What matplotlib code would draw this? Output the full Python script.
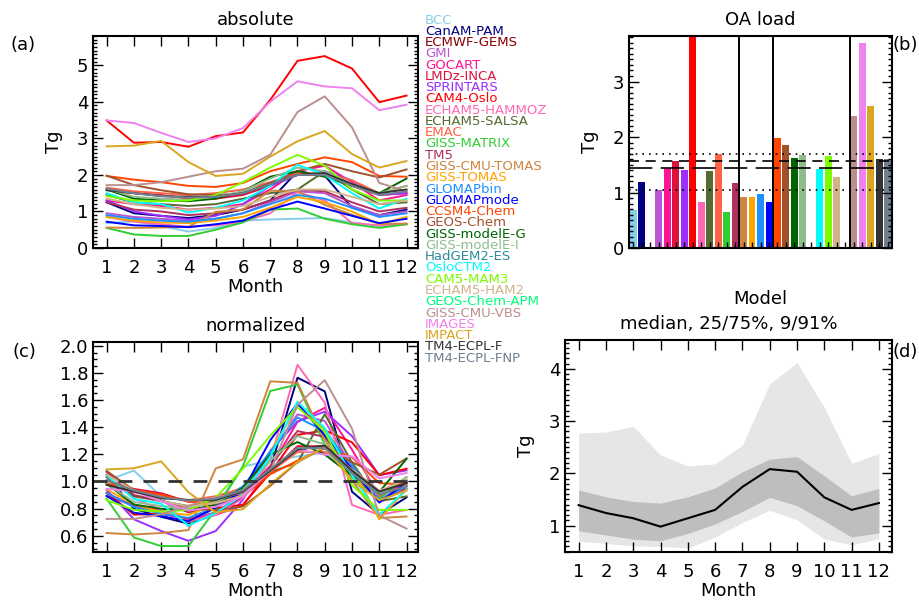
import matplotlib
matplotlib.use('Agg')
import matplotlib.pyplot as plt
import numpy as np
from matplotlib.ticker import MultipleLocator, NullFormatter, FormatStrFormatter

months = np.arange(1, 13)

models = ['BCC', 'CanAM-PAM', 'ECMWF-GEMS', 'GMI', 'GOCART', 'LMDz-INCA', 'SPRINTARS',
          'CAM4-Oslo', 'ECHAM5-HAMMOZ', 'ECHAM5-SALSA', 'EMAC', 'GISS-MATRIX', 'TM5',
          'GISS-CMU-TOMAS', 'GISS-TOMAS', 'GLOMAPbin', 'GLOMAPmode', 'CCSM4-Chem',
          'GEOS-Chem', 'GISS-modelE-G', 'GISS-modelE-I', 'HadGEM2-ES', 'OsloCTM2',
          'CAM5-MAM3', 'ECHAM5-HAM2', 'GEOS-Chem-APM', 'GISS-CMU-VBS', 'IMAGES',
          'IMPACT', 'TM4-ECPL-F', 'TM4-ECPL-FNP']

colors = ['#87CEEB', '#000080', '#8B0000', '#BA55D3', '#FF1493', '#DC143C', '#9B30FF',
          '#FF0000', '#FF69B4', '#556B2F', '#FF6347', '#32CD32', '#B03060',
          '#CD853F', '#FFA500', '#1E90FF', '#0000FF', '#FF4500',
          '#A0522D', '#006400', '#8FBC8F', '#2F8A9A', '#00FFFF',
          '#7CFC00', '#D2B48C', '#00FF7F', '#BC8F8F', '#EE82EE',
          '#DAA520', '#333333', '#708090']

# monthly OA burden (Tg); None = model not shown
bcc = [0.68, 0.73, 0.60, 0.45, 0.55, 0.75, 0.78, 0.80, 0.82, 0.70, 0.60, 0.65]
canam = [1.25, 0.95, 0.88, 0.82, 0.90, 1.05, 1.30, 2.10, 1.98, 1.10, 0.90, 1.05]
gmi = [0.95, 0.85, 0.80, 0.75, 0.80, 0.95, 1.25, 1.55, 1.50, 1.15, 0.90, 1.00]
gocart = [1.30, 1.20, 1.15, 1.05, 1.10, 1.20, 1.60, 2.10, 2.25, 1.80, 1.30, 1.45]
lmdz = [1.60, 1.50, 1.45, 1.35, 1.35, 1.45, 1.70, 2.00, 2.00, 1.70, 1.45, 1.50]
sprintars = [1.30, 1.00, 0.88, 0.78, 0.88, 1.20, 1.70, 2.00, 2.10, 1.85, 1.45, 1.50]
cam4 = [3.49, 2.88, 2.90, 2.77, 3.06, 3.16, 4.05, 5.12, 5.25, 4.91, 3.99, 4.17]
hammoz = [0.85, 0.72, 0.65, 0.58, 0.62, 0.72, 0.95, 1.53, 1.30, 0.68, 0.62, 0.65]
salsa = [1.45, 1.25, 1.20, 1.15, 1.20, 1.35, 1.50, 1.60, 2.10, 1.60, 1.20, 1.25]
emac = [1.65, 1.55, 1.50, 1.45, 1.50, 1.60, 1.80, 2.05, 2.05, 1.85, 1.50, 1.70]
matrix = [0.55, 0.37, 0.33, 0.33, 0.50, 0.70, 1.05, 1.08, 0.80, 0.65, 0.55, 0.65]
tm5 = [1.25, 1.05, 1.00, 0.90, 0.95, 1.05, 1.30, 1.60, 1.55, 1.25, 1.00, 1.10]
cmu_tomas = [0.56, 0.55, 0.56, 0.58, 0.99, 1.05, 1.57, 1.56, 1.18, 0.91, 0.66, 0.67]
tomas = [0.85, 0.75, 0.70, 0.68, 0.75, 0.85, 1.10, 1.40, 1.25, 1.00, 0.65, 0.85]
glomapbin = [0.90, 0.80, 0.75, 0.72, 0.80, 0.95, 1.20, 1.45, 1.35, 1.10, 0.85, 0.95]
glomapmode = [0.72, 0.62, 0.60, 0.57, 0.65, 0.75, 1.05, 1.27, 1.08, 0.88, 0.68, 0.80]
ccsm4 = [1.97, 1.87, 1.80, 1.70, 1.67, 1.78, 2.10, 2.30, 2.48, 2.35, 1.97, 1.95]
geoschem = [1.98, 1.72, 1.58, 1.47, 1.45, 1.50, 1.78, 2.10, 2.30, 2.10, 1.93, 2.15]
modele_g = [1.60, 1.35, 1.30, 1.28, 1.35, 1.55, 1.95, 2.10, 1.95, 1.70, 1.50, 1.90]
modele_i = [1.62, 1.40, 1.35, 1.32, 1.40, 1.55, 1.90, 2.20, 2.10, 1.75, 1.50, 1.70]
osloctm2 = [1.50, 1.25, 1.20, 0.97, 1.10, 1.30, 1.70, 2.28, 2.00, 1.50, 1.08, 1.35]
cam5 = [1.42, 1.30, 1.28, 1.30, 1.45, 1.80, 2.20, 2.55, 2.25, 1.60, 1.30, 1.30]
ham2 = [1.35, 1.20, 1.10, 1.05, 1.08, 1.15, 1.40, 1.60, 1.60, 1.40, 1.20, 1.30]
cmu_vbs = [1.72, 1.72, 1.80, 1.95, 2.10, 2.17, 2.55, 3.72, 4.15, 3.30, 1.78, 1.55]
images = [3.49, 3.42, 3.15, 2.90, 3.00, 3.28, 4.00, 4.56, 4.42, 4.37, 3.77, 3.92]
impact = [2.78, 2.80, 2.93, 2.35, 1.97, 2.03, 2.50, 2.92, 3.20, 2.57, 2.20, 2.38]
tm4_f = [1.58, 1.50, 1.42, 1.40, 1.40, 1.50, 1.75, 2.00, 2.05, 1.75, 1.50, 1.60]
tm4_fnp = [1.62, 1.50, 1.42, 1.38, 1.40, 1.50, 1.75, 2.00, 2.00, 1.70, 1.45, 1.55]

monthly = [bcc, canam, None, gmi, gocart, lmdz, sprintars, cam4, hammoz, salsa, emac,
           matrix, tm5, cmu_tomas, tomas, glomapbin, glomapmode, ccsm4, geoschem,
           modele_g, modele_i, None, osloctm2, cam5, ham2, None, cmu_vbs, images,
           impact, tm4_f, tm4_fnp]

# annual OA load (Tg), panel (b)
oa_load = [0.68, 1.19, None, 1.04, 1.44, 1.57, 1.41, 3.90, 0.82, 1.38, 1.69, 0.65, 1.17,
           0.91, 0.91, 0.98, 0.83, 1.99, 1.85, 1.63, 1.67, None, 1.43, 1.65, 1.28, None,
           2.37, 3.69, 2.55, 1.60, 1.60]
load_median = 1.45
load_mean = 1.57
load_p25 = 1.04
load_p75 = 1.69
group_breaks = [12.5, 16.5, 25.5]

# ensemble statistics, panel (d)
p09 = [0.70, 0.66, 0.61, 0.60, 0.57, 0.78, 1.06, 1.29, 1.11, 0.74, 0.63, 0.75]
p25 = [0.90, 0.82, 0.74, 0.71, 0.85, 1.03, 1.27, 1.54, 1.38, 1.09, 0.78, 0.86]
med = [1.39, 1.24, 1.14, 0.98, 1.14, 1.30, 1.74, 2.08, 2.03, 1.54, 1.30, 1.43]
p75 = [1.68, 1.55, 1.46, 1.43, 1.55, 1.72, 2.03, 2.27, 2.32, 1.95, 1.57, 1.71]
p91 = [2.77, 2.79, 2.90, 2.35, 2.14, 2.18, 2.54, 3.71, 4.12, 3.26, 2.19, 2.38]

W, H = 919, 602
plt.rcParams['font.family'] = 'DejaVu Sans'
fig = plt.figure(figsize=(W / 100, H / 100), dpi=100)

FS = 13


def box(l, r, t, b):
    return [l / W, 1 - b / H, (r - l) / W, (b - t) / H]


def style(ax):
    ax.tick_params(which='both', direction='in', top=True, right=True, labelsize=FS,
                   width=1)
    ax.tick_params(which='major', length=7)
    ax.tick_params(which='minor', length=3)
    ax.tick_params(axis='x', pad=8)
    for s in ax.spines.values():
        s.set_linewidth(1.5)


# (a) absolute
ax = fig.add_axes(box(93, 418, 36, 248))
for series, c in zip(monthly, colors):
    if series is None:
        continue
    ax.plot(months, series, color=c, lw=1.4)
ax.set_xlim(0.5, 12.42)
ax.set_ylim(0, 5.8)
ax.set_xticks(months)
ax.yaxis.set_major_locator(MultipleLocator(1))
ax.yaxis.set_minor_locator(MultipleLocator(0.1))
style(ax)
ax.set_title('absolute', fontsize=FS, pad=8)
ax.set_xlabel('Month', fontsize=FS, labelpad=1)
ax.set_ylabel('Tg', fontsize=FS, labelpad=10)
fig.text(10 / W, 1 - 45 / H, '(a)', fontsize=FS, va='center')

# (b) OA load
ax = fig.add_axes(box(629, 892, 36, 248))
xs = np.arange(len(models))
for x, v, c in zip(xs, oa_load, colors):
    if v is None:
        continue
    ax.bar(x, v, width=0.82, color=c)
for xb in group_breaks:
    ax.axvline(xb, color='black', lw=1.4)
ax.axhline(load_p75, color='black', lw=1.2, ls=(0, (1, 3)))
ax.axhline(load_mean, color='black', lw=1.2, ls=(0, (6, 4)))
ax.axhline(load_median, color='black', lw=1.2, ls=(0, (14, 5)))
ax.axhline(load_p25, color='black', lw=1.2, ls=(0, (1, 3)))
ax.set_xlim(-0.5, 30.5)
ax.set_ylim(0, 3.82)
ax.set_xticks(xs)
ax.xaxis.set_major_formatter(NullFormatter())
ax.yaxis.set_major_locator(MultipleLocator(1))
ax.yaxis.set_minor_locator(MultipleLocator(0.1))
style(ax)
ax.tick_params(axis='x', which='major', length=4, top=False)
ax.set_title('OA load', fontsize=FS, pad=8)
ax.set_xlabel('Model', fontsize=FS, labelpad=22)
ax.set_ylabel('Tg', fontsize=FS, labelpad=10)
fig.text(893 / W, 1 - 45 / H, '(b)', fontsize=FS, va='center')

# legend of models
for i, (name, c) in enumerate(zip(models, colors)):
    fig.text(425 / W, 1 - (20 + i * 11.27) / H, name, color=c, fontsize=9.5,
             va='center')

# (c) normalized
ax = fig.add_axes(box(93, 418, 341.7, 552))
for series, c in zip(monthly, colors):
    if series is None:
        continue
    s = np.array(series)
    ax.plot(months, s / s.mean(), color=c, lw=1.4)
ax.axhline(1.0, color='#333333', lw=2, ls=(0, (5, 4)))
ax.set_xlim(0.5, 12.42)
ax.set_ylim(0.48, 2.03)
ax.set_xticks(months)
ax.yaxis.set_major_locator(MultipleLocator(0.2))
ax.yaxis.set_minor_locator(MultipleLocator(0.05))
ax.yaxis.set_major_formatter(FormatStrFormatter('%.1f'))
style(ax)
ax.set_title('normalized', fontsize=FS, pad=8)
ax.set_xlabel('Month', fontsize=FS, labelpad=1)
fig.text(12 / W, 1 - 352 / H, '(c)', fontsize=FS, va='center')

# (d) median and percentiles
ax = fig.add_axes(box(565, 892, 340, 551.7))
ax.fill_between(months, p09, p91, color='#E6E6E6', lw=0)
ax.fill_between(months, p25, p75, color='#BEBEBE', lw=0)
ax.plot(months, med, color='black', lw=1.5)
ax.set_xlim(0.5, 12.48)
ax.set_ylim(0.5, 4.55)
ax.set_xticks(months)
ax.yaxis.set_major_locator(MultipleLocator(1))
ax.yaxis.set_minor_locator(MultipleLocator(0.1))
style(ax)
ax.set_title('median, 25/75%, 9/91%', fontsize=FS, pad=8)
ax.set_xlabel('Month', fontsize=FS, labelpad=1)
ax.set_ylabel('Tg', fontsize=FS, labelpad=10)
fig.text(893 / W, 1 - 352 / H, '(d)', fontsize=FS, va='center')

fig.savefig('out.png', dpi=100)
